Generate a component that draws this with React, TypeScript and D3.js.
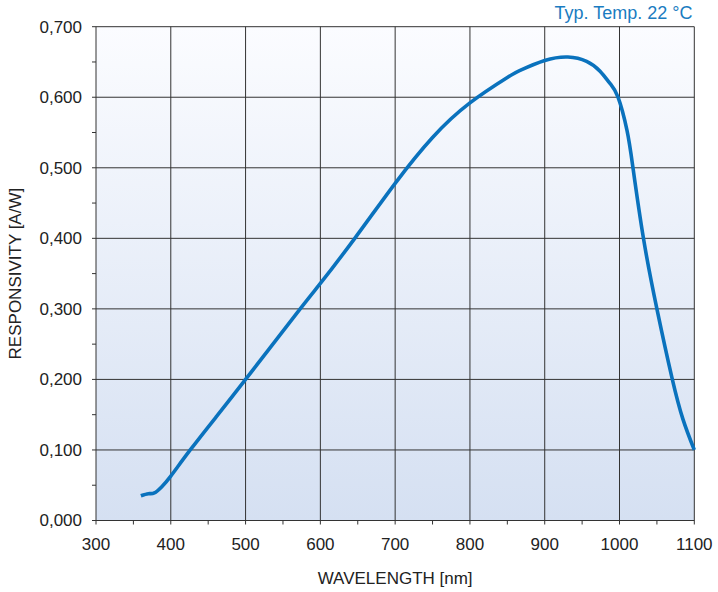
import React from "react";
import * as d3 from "d3";

const wavelengths = [360, 370, 378, 388, 400, 426, 460, 500, 573, 600, 646, 700, 750, 800, 850, 867, 900, 931, 956, 974, 987, 998, 1010, 1018, 1032, 1050, 1070, 1085, 1100];
const responsivity = [0.035, 0.038, 0.039, 0.048, 0.063, 0.1, 0.146, 0.2, 0.3, 0.336, 0.4, 0.478, 0.543, 0.592, 0.628, 0.638, 0.652, 0.657, 0.651, 0.637, 0.62, 0.6, 0.553, 0.5, 0.4, 0.3, 0.203, 0.143, 0.1];
const xTicks = [300, 400, 500, 600, 700, 800, 900, 1000, 1100];
const xMinor = [350, 450, 550, 650, 750, 850, 950, 1050];
const yTicks = [0, 0.1, 0.2, 0.3, 0.4, 0.5, 0.6, 0.7];
const yMinor = [0.05, 0.15, 0.25, 0.35, 0.45, 0.55, 0.65];
const title = "Typ. Temp. 22 °C";
const xTitle = "WAVELENGTH [nm]";
const yTitle = "RESPONSIVITY [A/W]";

export default function App() {
  const W = 718, H = 592;
  const left = 96, right = 694.3, top = 26.7, bottom = 520.5;
  const x = d3.scaleLinear().domain([300, 1100]).range([left, right]);
  const y = d3.scaleLinear().domain([0, 0.7]).range([bottom, top]);
  const pts: [number, number][] = wavelengths.map((w, i) => [w, responsivity[i]]);
  const line = d3.line<[number, number]>().x(d => x(d[0])).y(d => y(d[1])).curve(d3.curveNatural);
  const font = "'Liberation Sans', Arial, sans-serif";
  const gridColor = "#333";
  return (
    <svg width={W} height={H} style={{ position: "absolute", left: 0, top: 0 }} fontFamily={font}>
      <defs>
        <linearGradient id="bg" x1="0" y1="0" x2="0" y2="1">
          <stop offset="0" stopColor="#fbfcff" />
          <stop offset="1" stopColor="#d5e0f2" />
        </linearGradient>
      </defs>
      <rect x={left} y={top} width={right - left} height={bottom - top} fill="url(#bg)" />
      {xTicks.map(t => (
        <line key={"gx" + t} x1={x(t)} x2={x(t)} y1={top} y2={bottom + 4} stroke={gridColor} strokeWidth={1} />
      ))}
      {yTicks.map(t => (
        <line key={"gy" + t} x1={left - 4} x2={right} y1={y(t)} y2={y(t)} stroke={gridColor} strokeWidth={1} />
      ))}
      {xMinor.map(t => (
        <line key={"mx" + t} x1={x(t)} x2={x(t)} y1={bottom} y2={bottom + 4} stroke={gridColor} strokeWidth={1} />
      ))}
      {yMinor.map(t => (
        <line key={"my" + t} x1={left - 4} x2={left} y1={y(t)} y2={y(t)} stroke={gridColor} strokeWidth={1} />
      ))}
      <path d={line(pts) || ""} fill="none" stroke="#0a72bd" strokeWidth={3.6} strokeLinejoin="round" strokeLinecap="butt" />
      {yTicks.map(t => (
        <text key={"ly" + t} x={82} y={y(t)} dy="0.35em" textAnchor="end" fontSize={17} fill="#222">
          {d3.format(".3f")(t).replace(".", ",")}
        </text>
      ))}
      {xTicks.map(t => (
        <text key={"lx" + t} x={x(t)} y={550} textAnchor="middle" fontSize={17} fill="#222">
          {t}
        </text>
      ))}
      <text x={692.5} y={19.3} textAnchor="end" fontSize={18} fill="#1a7cc1">{title}</text>
      <text x={(left + right) / 2} y={584} textAnchor="middle" fontSize={17} fill="#222">{xTitle}</text>
      <text transform={`translate(21,${(top + bottom) / 2}) rotate(-90)`} textAnchor="middle" fontSize={17} fill="#222">{yTitle}</text>
    </svg>
  );
}
